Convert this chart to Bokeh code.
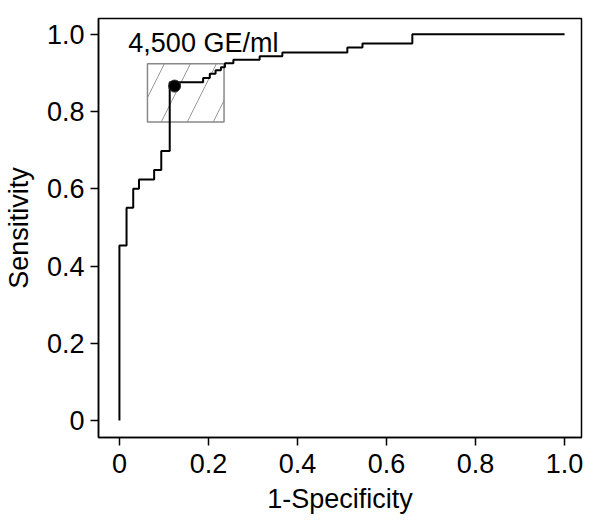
from bokeh.plotting import figure
from bokeh.models import FixedTicker, Range1d
from bokeh.core.properties import value
from bokeh.embed import file_html
from bokeh.resources import INLINE

# ROC curve: each horizontal run (from previous fpr to this fpr) at level tpr
fpr = [0.0, 0.016, 0.031, 0.044, 0.078, 0.094, 0.113, 0.188, 0.203, 0.216, 0.228,
       0.237, 0.256, 0.315, 0.366, 0.512, 0.546, 0.658, 1.0]
tpr = [0.0, 0.453, 0.551, 0.600, 0.624, 0.649, 0.698, 0.876, 0.887, 0.898, 0.907,
       0.915, 0.925, 0.934, 0.943, 0.953, 0.966, 0.976, 1.0]

# cutoff point and its confidence box
cutoff_label = "4,500 GE/ml"
cutoff_fpr = 0.124
cutoff_tpr = 0.866
ci_fpr = [0.063, 0.235]
ci_tpr = [0.773, 0.924]

ticks = [0, 0.2, 0.4, 0.6, 0.8, 1.0]
tick_labels = ["0", "0.2", "0.4", "0.6", "0.8", "1.0"]

# build step vertices (up then right)
xs, ys = [fpr[0]], [tpr[0]]
for i in range(1, len(fpr)):
    xs.append(fpr[i - 1]); ys.append(tpr[i])
    xs.append(fpr[i]); ys.append(tpr[i])

FONT = "Liberation Sans"
FS = "27px"

p = figure(width=584, height=513, frame_width=483, frame_height=419,
           min_border_left=89, min_border_right=12, min_border_top=18, min_border_bottom=76,
           output_backend="svg", toolbar_location=None,
           x_range=Range1d(-0.047, 1.038), y_range=Range1d(-0.044, 1.041))

p.quad(left=ci_fpr[0], right=ci_fpr[1], bottom=ci_tpr[0], top=ci_tpr[1],
       fill_color="white", line_color="#888888", line_width=1.5,
       hatch_pattern="/", hatch_color="#999999", hatch_scale=52, hatch_weight=1)

p.line(xs, ys, line_color="black", line_width=2)
p.scatter([cutoff_fpr], [cutoff_tpr], size=12, fill_color="black", line_color="#333333")

p.text(x=[0.02], y=[0.977], text=[cutoff_label], text_font=value(FONT),
       text_font_size=FS, text_baseline="middle", text_align="left", text_color="black")

p.xgrid.visible = False
p.ygrid.visible = False
p.outline_line_color = "black"
p.outline_line_width = 1.5
p.background_fill_color = "white"
p.border_fill_color = "white"

for ax, lab in ((p.xaxis[0], "1-Specificity"), (p.yaxis[0], "Sensitivity")):
    ax.ticker = FixedTicker(ticks=ticks)
    ax.major_label_overrides = {t: l for t, l in zip(ticks, tick_labels)}
    ax.minor_tick_line_color = None
    ax.major_tick_in = 0
    ax.major_tick_out = 8
    ax.major_tick_line_width = 1.5
    ax.axis_line_width = 1.5
    ax.axis_line_color = "black"
    ax.major_tick_line_color = "black"
    ax.major_label_text_font = FONT
    ax.major_label_text_font_size = FS
    ax.major_label_text_color = "black"
    ax.axis_label = lab
    ax.axis_label_text_font = FONT
    ax.axis_label_text_font_size = FS
    ax.axis_label_text_font_style = "normal"
    ax.axis_label_text_color = "black"

p.xaxis.major_label_standoff = 8
p.xaxis.axis_label_standoff = 8
p.yaxis.major_label_standoff = 6
p.yaxis.axis_label_standoff = 10

open("out.html", "w").write(file_html(p, INLINE))
